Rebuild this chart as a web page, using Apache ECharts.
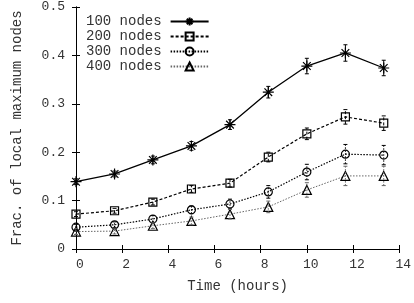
<!DOCTYPE html>
<html>
<head>
<meta charset="utf-8">
<title>Frac. of local maximum nodes</title>
<script src="https://cdn.jsdelivr.net/npm/echarts@6/dist/echarts.min.js"></script>
<style>
  html, body { margin: 0; padding: 0; background: #fff; }
  #main { width: 414px; height: 303px; }
</style>
</head>
<body>
<div id="main"></div>
<script>
// time of each sample, hours
var hours = [0, 1.67, 3.33, 5, 6.67, 8.33, 10, 11.67, 13.33];

var names = ['100 nodes', '200 nodes', '300 nodes', '400 nodes'];

// mean fraction of local maximum nodes
var n100 = [0.139, 0.155, 0.184, 0.213, 0.257, 0.324, 0.378, 0.405, 0.374];
var n200 = [0.072, 0.079, 0.097, 0.124, 0.136, 0.190, 0.238, 0.273, 0.260];
var n300 = [0.045, 0.050, 0.062, 0.081, 0.093, 0.118, 0.159, 0.196, 0.194];
var n400 = [0.036, 0.037, 0.048, 0.058, 0.072, 0.087, 0.122, 0.151, 0.151];

// half width of the error bars
var e100 = [0.006, 0.006, 0.008, 0.009, 0.010, 0.012, 0.016, 0.017, 0.016];
var e200 = [0.005, 0.005, 0.006, 0.007, 0.008, 0.010, 0.012, 0.015, 0.015];
var e300 = [0.006, 0.006, 0.007, 0.008, 0.010, 0.013, 0.016, 0.020, 0.020];
var e400 = [0.006, 0.006, 0.006, 0.008, 0.010, 0.012, 0.015, 0.020, 0.020];

var font = '"Liberation Mono", "DejaVu Sans Mono", monospace';
var txt = '#333';

var starPath = 'path://M0,5L10,5M5,0L5,10M1.5,1.5L8.5,8.5M8.5,1.5L1.5,8.5';

var styles = [
  { symbol: starPath, size: 11, color: '#000', dash: 'solid', width: 1.3 },
  { symbol: 'rect', size: 8, color: '#000', dash: [3, 2], width: 1.2 },
  { symbol: 'circle', size: 8, color: '#000', dash: [1.5, 1.5], width: 1.2 },
  { symbol: 'triangle', size: 9, color: '#666', dash: [1.5, 1.5], width: 1 }
];

var means = [n100, n200, n300, n400];
var errs = [e100, e200, e300, e400];

function pairs(ys) {
  return ys.map(function (y, i) { return [hours[i], y]; });
}

function bars(ys, es) {
  return ys.map(function (y, i) { return [hours[i], y - es[i], y + es[i]]; });
}

// vertical error bar with small caps
function errorBar(st) {
  return function (params, api) {
    var lo = api.coord([api.value(0), api.value(1)]);
    var hi = api.coord([api.value(0), api.value(2)]);
    var w = 2;
    var ls = { stroke: st.color, lineWidth: 1, lineDash: st.dash === 'solid' ? null : st.dash };
    return {
      type: 'group',
      children: [
        { type: 'line', shape: { x1: lo[0], y1: lo[1], x2: hi[0], y2: hi[1] }, style: ls },
        { type: 'line', shape: { x1: lo[0] - w, y1: lo[1], x2: lo[0] + w, y2: lo[1] }, style: { stroke: st.color, lineWidth: 1 } },
        { type: 'line', shape: { x1: hi[0] - w, y1: hi[1], x2: hi[0] + w, y2: hi[1] }, style: { stroke: st.color, lineWidth: 1 } }
      ]
    };
  };
}

var series = [];
names.forEach(function (nm, k) {
  var st = styles[k];
  series.push({
    name: nm,
    type: 'line',
    data: pairs(means[k]),
    symbol: st.symbol,
    symbolSize: st.size,
    showAllSymbol: true,
    z: 3,
    lineStyle: { color: st.color, width: st.width, type: st.dash },
    itemStyle: { color: 'transparent', borderColor: '#000', borderWidth: 1.2 },
    emphasis: { disabled: true },
    animation: false
  });
  series.push({
    name: nm + ' err',
    type: 'custom',
    data: bars(means[k], errs[k]),
    renderItem: errorBar(st),
    encode: { x: 0, y: [1, 2] },
    z: 4,
    silent: true,
    animation: false
  });
});

var axisLine = { show: true, lineStyle: { color: '#000', width: 1 } };
var ticks = { show: true, inside: true, length: 4, lineStyle: { color: '#000' } };

var option = {
  backgroundColor: '#fff',
  animation: false,
  grid: { left: 76, right: 7, top: 7, bottom: 54 },
  legend: {
    data: names,
    orient: 'vertical',
    left: 81,
    top: 9,
    align: 'right',
    itemWidth: 38,
    itemHeight: 10,
    itemGap: 0,
    textStyle: { fontFamily: font, fontSize: 14, color: txt, lineHeight: 15, padding: [0, 4, 0, 0] },
    selectedMode: false
  },
  xAxis: [{
    type: 'value',
    min: 0,
    max: 14,
    interval: 2,
    name: 'Time (hours)',
    nameLocation: 'middle',
    nameGap: 30,
    nameTextStyle: { fontFamily: font, fontSize: 14, color: txt },
    axisLine: axisLine,
    axisTick: ticks,
    splitLine: { show: false },
    axisLabel: { fontFamily: font, fontSize: 13, color: txt, margin: 9, padding: [0, 0, 0, 8] }
  }, {
    type: 'value',
    position: 'top',
    min: 0,
    max: 14,
    interval: 2,
    axisLine: axisLine,
    axisTick: ticks,
    splitLine: { show: false },
    axisLabel: { show: false }
  }],
  yAxis: [{
    type: 'value',
    min: 0,
    max: 0.5,
    interval: 0.1,
    name: 'Frac. of local maximum nodes',
    nameLocation: 'middle',
    nameGap: 52,
    nameTextStyle: { fontFamily: font, fontSize: 14, color: txt },
    axisLine: axisLine,
    axisTick: ticks,
    splitLine: { show: false },
    axisLabel: { fontFamily: font, fontSize: 13, color: txt, margin: 11 }
  }, {
    type: 'value',
    position: 'right',
    min: 0,
    max: 0.5,
    interval: 0.1,
    axisLine: axisLine,
    axisTick: ticks,
    splitLine: { show: false },
    axisLabel: { show: false }
  }],
  series: series
};

var chart = echarts.init(document.getElementById('main'));
chart.setOption(option);
</script>
</body>
</html>
